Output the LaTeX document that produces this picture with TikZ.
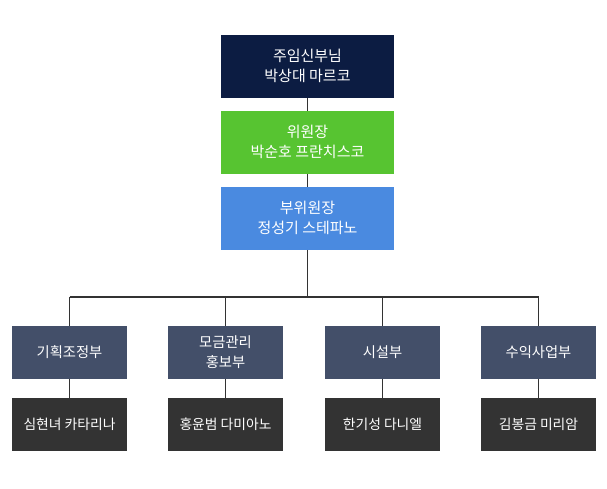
\documentclass[tikz,border=0pt]{standalone}
\usepackage{fontspec}
\setmainfont{Noto Sans CJK KR}
\begin{document}
\begin{tikzpicture}[x=1pt,y=-1pt,
  box/.style={draw=none,minimum width=173pt,minimum height=62.5pt,text=white,align=center,inner sep=0pt,font=\fontsize{15pt}{20pt}\selectfont},
  dept/.style={draw=none,fill=deptc,minimum width=115pt,minimum height=53pt,text=white,align=center,inner sep=0pt,font=\fontsize{14.3pt}{20.5pt}\selectfont},
  person/.style={draw=none,fill=personc,minimum width=115pt,minimum height=53pt,text=white,align=center,inner sep=0pt,font=\fontsize{13.8pt}{20pt}\selectfont},
  link/.style={draw=linec,line width=1.3pt}]
\definecolor{navyc}{HTML}{0C1C42}
\definecolor{greenc}{HTML}{57C431}
\definecolor{bluec}{HTML}{4A8AE0}
\definecolor{deptc}{HTML}{434F69}
\definecolor{personc}{HTML}{333333}
\definecolor{linec}{HTML}{333333}
\useasboundingbox (0,0) rectangle (607,488);
\node[box,fill=navyc] (p) at (307.5,66.3) {주임신부님\\박상대 마르코};
\node[box,fill=greenc] (v) at (307.5,142.3) {위원장\\박순호 프란치스코};
\node[box,fill=bluec] (d) at (307.5,218.3) {부위원장\\정성기 스테파노};
\coordinate (j) at (307.5,297);
\coordinate (jl) at (69.5,297);
\coordinate (jr) at (538.5,297);
\node[dept] (a1) at (69.5,352.2) {기획조정부};
\node[dept] (a2) at (225.5,352.2) {모금관리\\홍보부};
\node[dept] (a3) at (382.5,352.2) {시설부};
\node[dept] (a4) at (538.5,352.2) {수익사업부};
\node[person] (b1) at (69.5,424.4) {심현녀 카타리나};
\node[person] (b2) at (225.5,424.4) {홍윤범 다미아노};
\node[person] (b3) at (382.5,424.4) {한기성 다니엘};
\node[person] (b4) at (538.5,424.4) {김봉금 미리암};
\draw[link] (p.south) -- (v.north);
\draw[link] (v.south) -- (d.north);
\draw[link] (d.south) -- (j);
\draw[link] (jl) -- (jr);
\draw[link] (jl) -- (a1.north);
\draw[link] (a2.north|-j) -- (a2.north);
\draw[link] (a3.north|-j) -- (a3.north);
\draw[link] (jr) -- (a4.north);
\foreach \i in {1,2,3,4}{\draw[link] (a\i.south) -- (b\i.north);}
\end{tikzpicture}
\end{document}
